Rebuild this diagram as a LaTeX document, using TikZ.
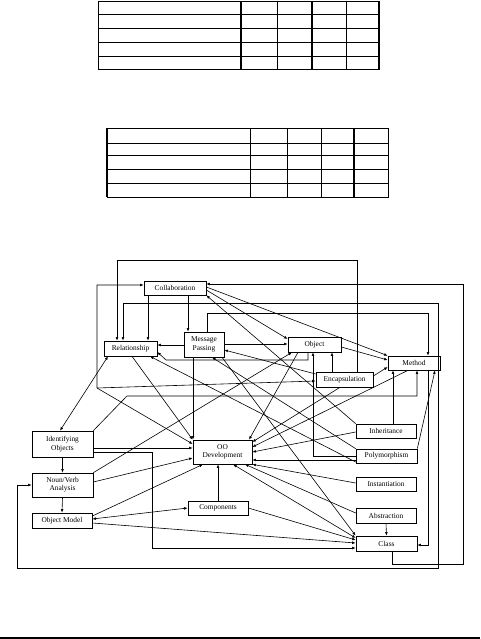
\documentclass[tikz,border=0pt]{standalone}
\usepackage{fontspec}
\setmainfont{Liberation Serif}
\usetikzlibrary{arrows.meta,shadows}
\begin{document}
\begin{tikzpicture}[x=1pt,y=-1pt,
 box/.style={draw, fill=white, line width=0.65pt, inner sep=1pt,
   font=\fontsize{7.4}{8.4}\selectfont, align=center,
   general shadow={fill=gray!55, shadow xshift=1pt, shadow yshift=-1pt}},
 arr/.style={-{Latex[length=3.6pt,width=2.8pt]}, line width=0.6pt},
 arrb/.style={{Latex[length=3.6pt,width=2.8pt]}-{Latex[length=3.6pt,width=2.8pt]}, line width=0.6pt},
 tl/.style={line width=0.9pt}, tk/.style={line width=1.5pt}]
\useasboundingbox (0,0) rectangle (480,639);
\fill[white] (0,0) rectangle (480,639);

% ---- table 1
\draw[tl] (98,1) rectangle (379,69);
\foreach \y in {14,28,42,56} \draw[tl] (98,\y) -- (379,\y);
\foreach \x in {277,346} \draw[tl] (\x,1) -- (\x,69);
\foreach \x in {241,312,379} \draw[tk] (\x,1) -- (\x,69);
% ---- table 2
\draw[tl] (107,128) rectangle (388,197);
\foreach \y in {143,155,169,183} \draw[tl] (107,\y) -- (388,\y);
\foreach \x in {250,287,321} \draw[tl] (\x,128) -- (\x,197);
\foreach \x in {107,354} \draw[tk] (\x,128) -- (\x,197);

% ---- bottom rule
\fill (0,636.5) rectangle (480,639);

% ---- nodes
\node[box, minimum width=62pt, minimum height=14pt] (collab) at (175,288) {Collaboration};
\node[box, minimum width=53pt, minimum height=15pt] (rel) at (130.5,348.5) {Relationship};
\node[box, minimum width=40pt, minimum height=25pt] (mp) at (204,344.5) {Message\\Passing};
\node[box, minimum width=53pt, minimum height=15pt] (obj) at (314.5,344.5) {Object};
\node[box, minimum width=52pt, minimum height=14pt] (meth) at (414,363) {Method};
\node[box, minimum width=57pt, minimum height=15pt] (enc) at (344.5,379.5) {Encapsulation};
\node[box, minimum width=60pt, minimum height=14pt] (inh) at (386,431) {Inheritance};
\node[box, minimum width=61pt, minimum height=14pt] (poly) at (386.5,456) {Polymorphism};
\node[box, minimum width=59pt, minimum height=24pt] (oo) at (222.5,452) {OO\\Development};
\node[box, minimum width=61pt, minimum height=26pt] (id) at (62.5,444) {Identifying\\Objects};
\node[box, minimum width=61pt, minimum height=24pt] (nv) at (62.5,485) {Noun/Verb\\Analysis};
\node[box, minimum width=60pt, minimum height=15pt] (om) at (62,520.5) {Object Model};
\node[box, minimum width=60pt, minimum height=14pt] (comp) at (218,508) {Components};
\node[box, minimum width=60pt, minimum height=14pt] (inst) at (386,484) {Instantiation};
\node[box, minimum width=60pt, minimum height=15pt] (abs) at (386,515.5) {Abstraction};
\node[box, minimum width=61pt, minimum height=15pt] (cls) at (386.5,543.5) {Class};
\coordinate (corner) at (97,388);

% ---- connectors
\draw[arr] (enc.north -| 357,0) -- (357,260) -- (117,260) -- (rel.north -| 117,0);
\draw[arrb] (rel.north -| 123,0) -- (123,303) -- (438,303) -- (438,568) -- (17,568) -- (17,485) -- (nv.west);
\draw[arr] (collab.south -| 148,0) -- (rel.north -| 148,0);
\draw[arr] (collab.south -| 188,0) -- (mp.north -| 188,0);
\draw[arrb] (collab.west |- 0,285) -- (97,285) -- (corner) -- (oo.west |- 0,444);
\draw[arr] (corner) -- (enc.west |- 0,381);
\draw[arr] (cls.south -| 392,0) -- (392,564) -- (463,564) -- (463,284) -- (collab.east |- 0,284);
\draw[arr] (mp.north -| 207,0) -- (207,313) -- (428,313) -- (meth.north -| 428,0);
\draw[arr] (meth.south -| 428,0) -- (428,545) -- (cls.east |- 0,545);
\draw[arr] (collab.east |- 0,287) -- (meth.north west);
\draw[arr] (collab.east |- 0,290) -- (obj.west |- 0,339);
\draw[arr] (inh.north west) -- (collab.south east);
\draw[arr] (mp.west |- 0,345) -- (rel.east |- 0,345);
\draw[arr] (obj.south -| 308,0) -- (308,360) -- (166,360) -- (rel.east |- 0,352);
\draw[arr] (mp.east |- 0,344) -- (obj.west |- 0,344);
\draw[arr] (obj.east |- 0,347) -- (meth.west |- 0,360);
\draw[arr] (enc.north -| 332,0) -- (obj.south -| 332,0);
\draw[arr] (poly.west) -- (313,456) -- (obj.south -| 313,0);
\draw[arr] (inh.north -| 393,0) -- (meth.south -| 393,0);
\draw[arr] (id.north east) -- (127,396) -- (417,396) -- (meth.south -| 417,0);
\draw[arr] (poly.north east) -- (meth.south -| 435,0);
\draw[arr] (enc.east |- 0,376) -- (meth.west |- 0,367);
\draw[arr] (meth.south -| 408,0) -- (oo.east |- 0,447);
\draw[arr] (enc.south -| 340,0) -- (oo.east |- 0,442);
\draw[arr] (obj.south -| 298,0) -- (oo.north -| 249,0);
\draw[arr] (enc.west |- 0,374) -- (mp.east |- 0,350);
\draw[arr] (mp.south -| 193,0) -- (oo.north -| 193,0);
\draw[arr] (rel.south -| 132,0) -- (oo.north west);
\draw[arr] (poly.west |- 0,462) -- (rel.south -| 150,0);
\draw[arr] (poly.north west) -- (mp.south -| 212,0);
\draw[arr] (mp.south -| 222,0) -- (cls.north west);
\draw[arr] (nv.north east) -- (obj.south -| 292,0);
\draw[arr] (id.east |- 0,448) -- (oo.west |- 0,448);
\draw[arr] (id.east |- 0,452) -- (152,452) -- (152,548) -- (cls.west |- 0,548);
\draw[arr] (nv.east |- 0,482) -- (oo.west |- 0,458);
\draw[arr] (om.east |- 0,516) -- (oo.south -| 203,0);
\draw[arr] (comp.north) -- (oo.south -| 218,0);
\draw[arrb] (oo.south -| 233,0) -- (cls.west |- 0,538);
\draw[arr] (abs.west |- 0,513) -- (oo.south -| 245,0);
\draw[arr] (inst.west |- 0,483) -- (oo.south east);
\draw[arr] (poly.west |- 0,460) -- (oo.east |- 0,460);
\draw[arr] (inh.west |- 0,432) -- (oo.east |- 0,452);
\draw[arr] (id.south) -- (nv.north);
\draw[arr] (nv.south) -- (om.north);
\draw[arr] (om.east |- 0,523) -- (cls.west |- 0,543);
\draw[arr] (comp.east) -- (cls.west |- 0,540);
\draw[arrb] (om.east |- 0,519) -- (comp.west);
\draw[arr] (abs.south) -- (cls.north);
\draw[arrb] (id.north -| 60,0) -- (rel.south -| 108,0);
\end{tikzpicture}
\end{document}
